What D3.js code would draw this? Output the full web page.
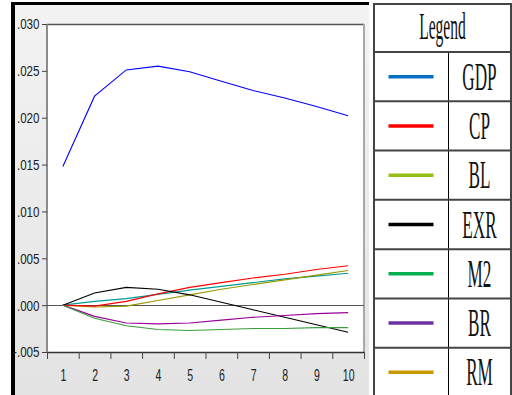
<!DOCTYPE html>
<html>
<head>
<meta charset="utf-8">
<script src="https://cdn.jsdelivr.net/npm/d3@7"></script>
<style>
  html, body { margin: 0; padding: 0; background: #ffffff; }
  svg { display: block; }
</style>
</head>
<body>
<svg id="chart" width="512" height="395"></svg>
<script>
// ---------- data ----------
const periods = [1, 2, 3, 4, 5, 6, 7, 8, 9, 10];
const gdp = [0.0148, 0.0223, 0.0251, 0.0255, 0.0249, 0.0239, 0.0229, 0.0221, 0.0212, 0.0202];
const cp  = [0, -0.0001, 0.0004, 0.0012, 0.0019, 0.0024, 0.0029, 0.0033, 0.0038, 0.0042];
const bl  = [0, -0.0002, -0.0001, 0.0005, 0.0011, 0.0017, 0.0022, 0.0027, 0.0032, 0.0037];
const exr = [0, 0.0013, 0.0019, 0.0017, 0.0011, 0.0003, -0.0005, -0.0013, -0.0021, -0.0029];
const m2  = [0, -0.0014, -0.0022, -0.0026, -0.0027, -0.0026, -0.0025, -0.0025, -0.0024, -0.0024];
const br  = [0, -0.0012, -0.0019, -0.0020, -0.0019, -0.0016, -0.0013, -0.0011, -0.0009, -0.0008];
const rm  = [0, 0.0004, 0.0007, 0.00115, 0.0016, 0.0020, 0.0024, 0.0028, 0.0031, 0.0034];
const yTicks = [-0.005, 0.000, 0.005, 0.010, 0.015, 0.020, 0.025, 0.030];
const seriesNames = ["GDP", "CP", "BL", "EXR", "M2", "BR", "RM"];
const seriesValues = [gdp, cp, bl, exr, m2, br, rm];
const chartColors = ["#0000ff", "#ff0000", "#999900", "#000000", "#3a9e3a", "#990099", "#009999"];
const legendColors = ["#0070c0", "#ff0000", "#94bf1a", "#000000", "#00b050", "#7030a0", "#c79800"];

// ---------- layout ----------
const svg = d3.select("#chart");
const plot = { left: 47, top: 24, right: 364, bottom: 352 };

// chart panel background
const defs = svg.append("defs");
const grad = defs.append("linearGradient").attr("id", "bg").attr("x1", 0).attr("y1", 0).attr("x2", 0).attr("y2", 1);
grad.append("stop").attr("offset", "0%").attr("stop-color", "#f3f3f3");
grad.append("stop").attr("offset", "100%").attr("stop-color", "#e3e3e3");

svg.append("rect").attr("x", 12).attr("y", 2).attr("width", 357).attr("height", 395).attr("fill", "url(#bg)");
svg.append("rect").attr("x", 11).attr("y", 2).attr("width", 358).attr("height", 3).attr("fill", "#000");
svg.append("rect").attr("x", 11).attr("y", 2).attr("width", 4).attr("height", 395).attr("fill", "#000");

// plot area
svg.append("rect").attr("x", plot.left).attr("y", plot.top)
  .attr("width", plot.right - plot.left).attr("height", plot.bottom - plot.top)
  .attr("fill", "#ffffff");

const x = d3.scaleLinear().domain([0.5, 10.5]).range([plot.left, plot.right]);
const y = d3.scaleLinear().domain([-0.005, 0.030]).range([plot.bottom, plot.top]);

// frame lines
svg.append("line").attr("x1", plot.left).attr("x2", plot.right).attr("y1", plot.top + 0.5).attr("y2", plot.top + 0.5)
  .attr("stroke", "#555").attr("stroke-width", 1.5);
svg.append("line").attr("x1", plot.right).attr("x2", plot.right).attr("y1", plot.top).attr("y2", plot.bottom)
  .attr("stroke", "#a8a8a8").attr("stroke-width", 2);
svg.append("line").attr("x1", plot.left).attr("x2", plot.left).attr("y1", plot.top).attr("y2", plot.bottom)
  .attr("stroke", "#8c8c8c").attr("stroke-width", 2);

// zero line
svg.append("line").attr("x1", plot.left).attr("x2", plot.right)
  .attr("y1", Math.round(y(0)) + 0.5).attr("y2", Math.round(y(0)) + 0.5)
  .attr("stroke", "#555").attr("stroke-width", 1);

// y axis
const fmt = v => {
  let s = d3.format(".3f")(Math.abs(v)).replace(/^0\./, ".");
  return (v < -1e-9 ? "-" : "") + s;
};
const yAxis = svg.append("g").attr("transform", `translate(${plot.left},0)`)
  .call(d3.axisLeft(y).tickValues(yTicks).tickFormat(fmt).tickSize(5).tickPadding(3));
yAxis.select(".domain").remove();
yAxis.selectAll(".tick line").attr("stroke", "#444");
const ySx = 0.75;
yAxis.selectAll(".tick text")
  .attr("font-family", "Liberation Sans, Arial, sans-serif")
  .attr("font-size", 15.5)
  .attr("fill", "#222")
  .attr("x", -7.5 / ySx)
  .attr("transform", `scale(${ySx},1)`);

// x axis: boundary ticks
const xb = d3.range(0.5, 11, 1);
const xAxisTicks = svg.append("g").attr("transform", `translate(0,${plot.bottom})`)
  .call(d3.axisBottom(x).tickValues(xb).tickFormat("").tickSize(7).tickSizeOuter(0));
xAxisTicks.select(".domain").attr("stroke", "#333").attr("stroke-width", 1.5);
xAxisTicks.selectAll(".tick line").attr("stroke", "#444");

// x axis labels
const xSx = 0.62;
const xAxisLabels = svg.append("g").attr("transform", `translate(0,${plot.bottom})`)
  .call(d3.axisBottom(x).tickValues(periods).tickFormat(d3.format("d")).tickSize(0));
xAxisLabels.select(".domain").remove();
xAxisLabels.selectAll(".tick text")
  .attr("font-family", "Liberation Sans, Arial, sans-serif")
  .attr("font-size", 17)
  .attr("fill", "#222")
  .attr("y", 29).attr("dy", 0)
  .attr("transform", `scale(${xSx},1)`);

// series lines
const line = d3.line().x((d, i) => x(periods[i])).y(d => y(d));
const order = [0, 6, 2, 1, 3, 5, 4];
order.forEach(k => {
  svg.append("path").datum(seriesValues[k])
    .attr("d", line)
    .attr("fill", "none")
    .attr("stroke", chartColors[k])
    .attr("stroke-width", 1.1);
});

// ---------- legend table ----------
const lg = { left: 374, right: 511, top: 4, headBottom: 52, bottom: 397, divider: 448 };
const rowScale = d3.scaleBand().domain(seriesNames).range([lg.headBottom, lg.bottom]);
svg.append("rect").attr("x", lg.left).attr("y", lg.top).attr("width", lg.right - lg.left).attr("height", lg.bottom - lg.top)
  .attr("fill", "#fff").attr("stroke", "#444").attr("stroke-width", 2);
svg.append("line").attr("x1", lg.divider + 0.5).attr("x2", lg.divider + 0.5).attr("y1", lg.headBottom).attr("y2", lg.bottom)
  .attr("stroke", "#000").attr("stroke-width", 1);
svg.append("line").attr("x1", lg.left).attr("x2", lg.right).attr("y1", lg.headBottom).attr("y2", lg.headBottom)
  .attr("stroke", "#444").attr("stroke-width", 2);

const legSx = 0.44;
const cxRight = (lg.divider + lg.right) / 2;
const cxLeft = (lg.left + lg.divider) / 2;
svg.append("text").attr("transform", `translate(${(lg.left + lg.right) / 2},39) scale(0.42,1)`)
  .attr("text-anchor", "middle").attr("font-family", "Liberation Serif, Times New Roman, serif")
  .attr("font-size", 37).attr("fill", "#111").text("Legend");

seriesNames.forEach((name, i) => {
  const y0 = rowScale(name);
  const cy = y0 + rowScale.bandwidth() / 2;
  if (i > 0) {
    svg.append("line").attr("x1", lg.left).attr("x2", lg.right).attr("y1", y0).attr("y2", y0)
      .attr("stroke", "#444").attr("stroke-width", 2);
  }
  svg.append("line").attr("x1", cxLeft - 22.5).attr("x2", cxLeft + 22.5).attr("y1", cy).attr("y2", cy)
    .attr("stroke", legendColors[i]).attr("stroke-width", 3.5);
  svg.append("text").attr("transform", `translate(${cxRight},${cy + 13}) scale(${legSx},1)`)
    .attr("text-anchor", "middle").attr("font-family", "Liberation Serif, Times New Roman, serif")
    .attr("font-size", 39).attr("fill", "#111").text(name);
});
</script>
</body>
</html>
